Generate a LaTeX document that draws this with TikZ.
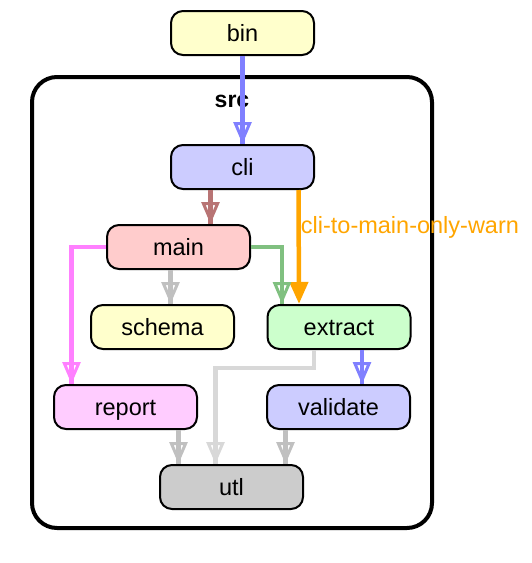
\documentclass[tikz,border=0pt]{standalone}
\usepackage{fontspec}
\setmainfont{Liberation Sans}
\usetikzlibrary{arrows.meta}

\definecolor{yellowfill}{HTML}{FFFFCC}
\definecolor{bluefill}{HTML}{CCCCFF}
\definecolor{redfill}{HTML}{FFCCCC}
\definecolor{greenfill}{HTML}{CCFFCC}
\definecolor{pinkfill}{HTML}{FFCCFF}
\definecolor{grayfill}{HTML}{CCCCCC}
\definecolor{blueedge}{HTML}{8080FF}
\definecolor{brownedge}{HTML}{B87474}
\definecolor{greenedge}{HTML}{80C080}
\definecolor{pinkedge}{HTML}{FF80FF}
\definecolor{grayedge}{HTML}{C0C0C0}
\definecolor{lightedge}{HTML}{D8D8D8}
\definecolor{warnedge}{HTML}{FFA500}

\tikzset{
  mod/.style={draw, line width=2pt, rounded corners=12pt, minimum width=143pt,
    minimum height=44pt, inner sep=0pt, text height=19pt, text depth=2pt,
    font=\fontsize{23.5}{28}\selectfont},
  dep/.style={line width=4.5pt, draw=#1,
    -{Triangle[open,length=22pt,width=18pt,line width=3pt]}, postaction={draw=#1,-}},
  warn/.style={line width=4.5pt, draw=#1, -{Triangle[length=22pt,width=18pt]}}
}

\begin{document}
\begin{tikzpicture}[x=1pt, y=-1pt]
\useasboundingbox (0,0) rectangle (532,563);
\draw[line width=4pt, rounded corners=25pt] (32,77) rectangle (432,528);
\node[font=\bfseries\fontsize{23}{27}\selectfont] (srclabel) at (232,101) {src};

\node[mod, fill=yellowfill] (bin) at (242.5,33) {bin};
\node[mod, fill=bluefill] (cli) at (242.5,167) {cli};
\node[mod, fill=redfill] (main) at (178.5,247) {main};
\node[mod, fill=yellowfill] (schema) at (162.5,327) {schema};
\node[mod, fill=greenfill] (extract) at (339,327) {extract};
\node[mod, fill=pinkfill] (report) at (125.5,407) {report};
\node[mod, fill=bluefill] (validate) at (338.5,407) {validate};
\node[mod, fill=grayfill] (utl) at (231.5,487) {utl};

\draw[dep=blueedge] (bin) -- (cli);
\draw[dep=brownedge] ([xshift=-32pt]cli.south) -- ([xshift=32pt]main.north);
\draw[warn=warnedge] ([xshift=56pt]cli.south) --
  node[pos=0.33, anchor=west, inner sep=0pt, text=warnedge, font=\fontsize{23.5}{28}\selectfont] (warnlabel) {cli-to-main-only-warn}
  ([xshift=-40pt]extract.north);
\draw[dep=greenedge] (main.east) -| ([xshift=-57pt]extract.north);
\draw[dep=grayedge] ([xshift=-8pt]main.south) -- ([xshift=8pt]schema.north);
\draw[dep=pinkedge] (main.west) -| ([xshift=-54pt]report.north);
\draw[dep=blueedge] ([xshift=23pt]extract.south) -- ([xshift=23.5pt]validate.north);
\draw[dep=lightedge] ([xshift=-25pt]extract.south) -- ++(0,18) -| ([xshift=-16pt]utl.north);
\draw[dep=grayedge] ([xshift=53pt]report.south) -- ([xshift=-53pt]utl.north);
\draw[dep=grayedge] ([xshift=-53pt]validate.south) -- ([xshift=54pt]utl.north);
\end{tikzpicture}
\end{document}
